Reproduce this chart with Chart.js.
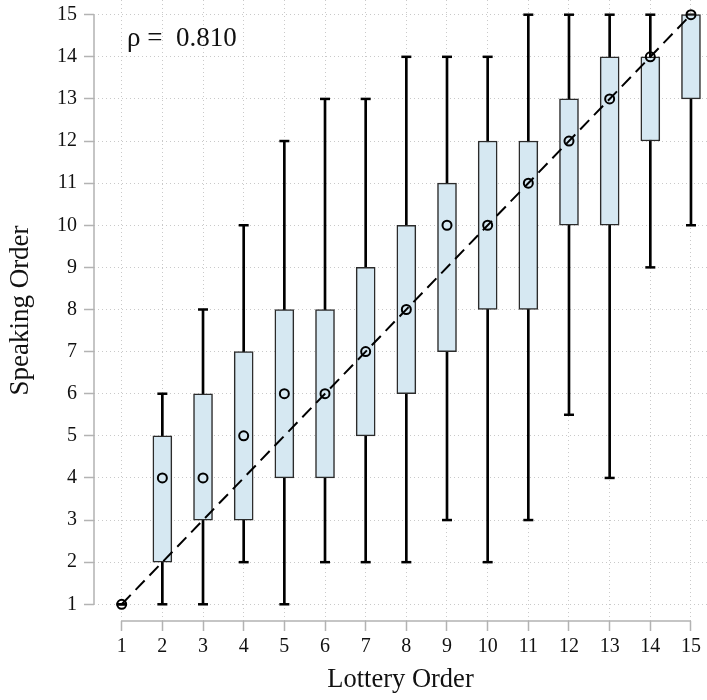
<!DOCTYPE html>
<html>
<head>
<meta charset="utf-8">
<script src="https://cdn.jsdelivr.net/npm/chart.js@4.4.7/dist/chart.umd.min.js"></script>
<style>
  html, body { margin: 0; padding: 0; background: #fff; }
  #wrap { width: 707px; height: 700px; position: relative; }
</style>
</head>
<body>
<div id="wrap"><canvas id="chart"></canvas></div>
<script>
// Lottery order (x) vs speaking order (y) - box summary per lottery slot
const LOTTERY = [1, 2, 3, 4, 5, 6, 7, 8, 9, 10, 11, 12, 13, 14, 15];
const WHISKER_LO = [1, 1, 1, 2, 1, 2, 2, 2, 3, 2, 3, 5.5, 4, 9, 10];
const Q1 = [1, 2, 3, 3, 4, 4, 5, 6, 7, 8, 8, 10, 10, 12, 13];
const MEDIAN = [1, 4, 4, 5, 6, 6, 7, 8, 10, 10, 11, 12, 13, 14, 15];
const Q3 = [1, 5, 6, 7, 8, 8, 9, 10, 11, 12, 12, 13, 14, 14, 15];
const WHISKER_HI = [1, 6, 8, 10, 12, 13, 13, 14, 14, 14, 15, 15, 15, 15, 15];
const TICKS = [1, 2, 3, 4, 5, 6, 7, 8, 9, 10, 11, 12, 13, 14, 15];
const RHO_LABEL = 'ρ =  0.810';

const FONT = "'Liberation Serif', 'Times New Roman', serif";
const AXIS_COLOR = '#b3b3b3';
const GRID_COLOR = '#c9c9c9';
const BOX_FILL = '#d6e8f2';
const BOX_EDGE = '#2b2b2b';

Chart.defaults.font.family = FONT;
Chart.defaults.color = '#111';

// short axis lines (tick 1 to tick 15) like the R base graphics axis
const axisLines = {
  id: 'axisLines',
  beforeDatasetsDraw(chart) {
    const { ctx, chartArea, scales: { x, y } } = chart;
    ctx.save();
    ctx.strokeStyle = AXIS_COLOR;
    ctx.lineWidth = 1.5;
    ctx.beginPath();
    ctx.moveTo(chartArea.left, y.getPixelForValue(TICKS[TICKS.length - 1]));
    ctx.lineTo(chartArea.left, y.getPixelForValue(TICKS[0]));
    ctx.moveTo(x.getPixelForValue(TICKS[0]), chartArea.bottom);
    ctx.lineTo(x.getPixelForValue(TICKS[TICKS.length - 1]), chartArea.bottom);
    ctx.stroke();
    ctx.restore();
  },
};

// correlation label in the top-left corner
const rhoLabel = {
  id: 'rhoLabel',
  afterDatasetsDraw(chart) {
    const { ctx, chartArea } = chart;
    ctx.save();
    ctx.font = `27px ${FONT}`;
    ctx.fillStyle = '#111';
    ctx.textAlign = 'left';
    ctx.textBaseline = 'alphabetic';
    ctx.fillText(RHO_LABEL, chartArea.left + 33, chartArea.top + 46);
    ctx.restore();
  },
};

const idx = LOTTERY.map((_, i) => i);
const boxIdx = idx.filter((i) => Q3[i] > Q1[i]);

new Chart(document.getElementById('chart'), {
  type: 'scatter',
  data: {
    datasets: [
      {
        type: 'bar',
        label: 'whisker',
        data: idx.map((i) => ({ x: LOTTERY[i], y: [WHISKER_LO[i], WHISKER_HI[i]] })),
        backgroundColor: '#000',
        borderWidth: 0,
        barThickness: 2,
        grouped: false,
        order: 6,
      },
      {
        label: 'caps',
        data: [
          ...idx.map((i) => ({ x: LOTTERY[i], y: WHISKER_LO[i] })),
          ...idx.map((i) => ({ x: LOTTERY[i], y: WHISKER_HI[i] })),
        ],
        pointStyle: 'line',
        pointRadius: 5,
        borderColor: '#000',
        borderWidth: 2.5,
        order: 5,
      },
      {
        type: 'bar',
        label: 'box',
        data: boxIdx.map((i) => ({ x: LOTTERY[i], y: [Q1[i], Q3[i]] })),
        backgroundColor: BOX_FILL,
        borderColor: BOX_EDGE,
        borderWidth: 1.5,
        borderSkipped: false,
        barThickness: 19,
        grouped: false,
        order: 4,
      },
      {
        type: 'line',
        label: 'y = x',
        data: [
          { x: TICKS[0], y: TICKS[0] },
          { x: TICKS[TICKS.length - 1], y: TICKS[TICKS.length - 1] },
        ],
        borderColor: '#000',
        borderWidth: 2,
        borderDash: [13, 7],
        pointRadius: 0,
        fill: false,
        order: 3,
      },
      {
        label: 'median',
        data: idx.map((i) => ({ x: LOTTERY[i], y: MEDIAN[i] })),
        pointStyle: 'circle',
        pointRadius: 4.5,
        borderColor: '#000',
        borderWidth: 2,
        backgroundColor: 'rgba(0,0,0,0)',
        order: 2,
      },
    ],
  },
  options: {
    responsive: true,
    maintainAspectRatio: false,
    animation: false,
    layout: { padding: 0, autoPadding: false },
    plugins: {
      legend: { display: false },
      tooltip: { enabled: false },
    },
    scales: {
      x: {
        type: 'linear',
        min: 0.319,
        max: 15.394,
        offset: false,
        afterBuildTicks: (s) => { s.ticks = TICKS.map((v) => ({ value: v })); },
        afterFit: (s) => { s.height = 79; s.paddingLeft = 0; s.paddingRight = 0; },
        ticks: { font: { size: 20 }, color: '#111', padding: 4, maxRotation: 0, autoSkip: false },
        grid: {
          color: GRID_COLOR, lineWidth: 1, offset: false,
          drawTicks: true, tickLength: 10, tickColor: AXIS_COLOR, tickWidth: 1.5, tickBorderDash: [],
        },
        border: { display: false, dash: [1, 3] },
        title: { display: true, text: 'Lottery Order', font: { size: 26.5 }, color: '#111', padding: { top: 0, bottom: 4 } },
      },
      y: {
        type: 'linear',
        min: 0.603,
        max: 15.349,
        afterBuildTicks: (s) => { s.ticks = TICKS.map((v) => ({ value: v })); },
        afterFit: (s) => { s.width = 94; s.paddingTop = 0; s.paddingBottom = 0; },
        ticks: { font: { size: 20 }, color: '#111', padding: 7, autoSkip: false },
        grid: {
          color: GRID_COLOR, lineWidth: 1,
          drawTicks: true, tickLength: 10, tickColor: AXIS_COLOR, tickWidth: 1.5, tickBorderDash: [],
        },
        border: { display: false, dash: [1, 3] },
        title: { display: true, text: 'Speaking Order', font: { size: 27 }, color: '#111', padding: { top: 5, bottom: 0 } },
      },
    },
  },
  plugins: [axisLines, rhoLabel],
});
</script>
</body>
</html>
